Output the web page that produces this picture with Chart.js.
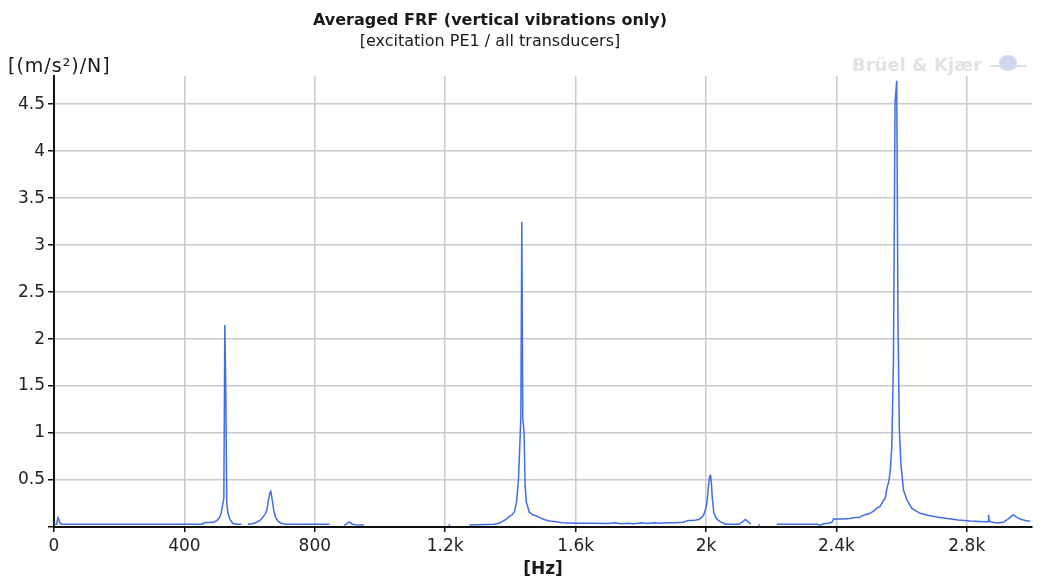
<!DOCTYPE html>
<html>
<head>
<meta charset="utf-8">
<title>Averaged FRF</title>
<script src="https://cdn.jsdelivr.net/npm/chart.js@4.4.1/dist/chart.umd.min.js"></script>
<style>
  body { margin: 0; background: #fff; }
  #wrap { width: 1043px; height: 580px; }
</style>
</head>
<body>
<div id="wrap"><canvas id="frfChart" width="1043" height="580"></canvas></div>
<script>
// Datos (null = hueco en la curva)
const freqHz = [
  0, 8, 12, 15, 18, 24, 100, 200, 300, 400, 455, 460, 490, 500, 508, 513, 518, 521, 524, 527,
  530, 534, 540, 548, 560, 575, 583,
  595, 610, 621, 632, 640, 648, 653, 658, 662, 665, 668, 671, 674, 680, 688, 697, 710, 760, 800, 845, 865,
  890, 897, 903, 908, 915, 925, 950, 1050,
  1210, 1215, 1240,
  1274, 1300, 1350, 1365, 1375, 1386, 1396, 1405, 1412, 1419, 1425, 1432, 1435, 1438, 1442, 1445,
  1449, 1458, 1468, 1478, 1490, 1503, 1520, 1540, 1559, 1600, 1650, 1700, 1720, 1740, 1760, 1780,
  1800, 1820, 1840, 1860, 1880, 1900, 1930, 1945, 1958, 1970, 1978, 1986, 1993, 1998, 2003, 2008,
  2011, 2014, 2017, 2019, 2024, 2031, 2038, 2044, 2060, 2080, 2100, 2110, 2121, 2128, 2137, 2145,
  2160, 2165, 2190,
  2217, 2260, 2300, 2340, 2351, 2360, 2375, 2386, 2391, 2420, 2440, 2458, 2470, 2480, 2488, 2500,
  2514, 2524, 2534, 2544, 2550, 2556, 2560, 2565, 2570, 2575, 2580, 2585, 2589, 2593, 2598, 2606,
  2616, 2631, 2645, 2657, 2680, 2703, 2740, 2774, 2810, 2856, 2866, 2867, 2869, 2886, 2900, 2912,
  2925, 2935, 2943, 2955, 2968, 2980, 2995
];
const amplitude = [
  0.03, 0.03, 0.1, 0.08, 0.04, 0.03, 0.028, 0.028, 0.028, 0.03, 0.03, 0.045, 0.05, 0.07, 0.1, 0.15, 0.25, 0.3, 2.15, 1.44,
  0.25, 0.14, 0.08, 0.04, 0.03, 0.03, null,
  0.03, 0.035, 0.05, 0.07, 0.1, 0.14, 0.18, 0.29, 0.36, 0.38, 0.32, 0.25, 0.18, 0.1, 0.06, 0.04, 0.03, 0.03, 0.028, 0.028, null,
  0.02, 0.03, 0.05, 0.05, 0.03, 0.025, 0.02, null,
  0.02, 0.02, null,
  0.02, 0.025, 0.03, 0.04, 0.057, 0.08, 0.11, 0.13, 0.16, 0.27, 0.52, 1.16, 3.25, 1.16, 1.0, 0.45,
  0.26, 0.16, 0.13, 0.12, 0.1, 0.08, 0.065, 0.055, 0.045, 0.04, 0.04, 0.038, 0.045, 0.035, 0.04, 0.035,
  0.045, 0.038, 0.045, 0.04, 0.045, 0.045, 0.05, 0.07, 0.07, 0.075, 0.08, 0.1, 0.13, 0.18, 0.26, 0.45,
  0.54, 0.55, 0.45, 0.32, 0.15, 0.095, 0.07, 0.057, 0.03, 0.03, 0.03, 0.05, 0.08, 0.06, 0.03, null,
  0.02, 0.02, null,
  0.03, 0.03, 0.03, 0.03, 0.02, 0.035, 0.04, 0.05, 0.085, 0.085, 0.09, 0.1, 0.1, 0.12, 0.13, 0.14,
  0.17, 0.2, 0.22, 0.28, 0.31, 0.43, 0.47, 0.59, 0.86, 1.76, 4.52, 4.75, 2.13, 1.05, 0.66, 0.39,
  0.29, 0.2, 0.17, 0.146, 0.125, 0.11, 0.09, 0.075, 0.065, 0.057, 0.057, 0.13, 0.06, 0.046, 0.045, 0.05,
  0.08, 0.11, 0.128, 0.1, 0.08, 0.07, 0.06
];
const xTickStep = 400;
const yTickStep = 0.5;

const titleText = 'Averaged FRF (vertical vibrations only)';
const subtitleText = '[excitation PE1 / all transducers]';
const yUnit = '[(m/s\u00B2)/N]';
const xUnit = '[Hz]';
const logoText = 'Br\u00FCel & Kj\u00E6r';

Chart.defaults.font.family = "'DejaVu Sans', Verdana, sans-serif";
Chart.defaults.color = '#222';

// Textos fijos: título, unidades y logotipo
const textosPlugin = {
  id: 'textos',
  afterDraw(chart) {
    const c = chart.ctx;
    c.save();
    c.fillStyle = '#1a1a1a';
    c.textAlign = 'center';
    c.textBaseline = 'alphabetic';
    c.font = "bold 16px 'DejaVu Sans'";
    c.fillText(titleText, 490, 25);
    c.font = "16px 'DejaVu Sans'";
    c.fillText(subtitleText, 490, 46);

    c.textAlign = 'left';
    c.font = "19px 'DejaVu Sans'";
    c.letterSpacing = '1px';
    c.fillText(yUnit, 8, 72);
    c.letterSpacing = '0px';

    c.textAlign = 'center';
    c.font = "bold 17px 'DejaVu Sans'";
    c.fillText(xUnit, 543, 574);

    // logo
    c.fillStyle = '#e2e2e2';
    c.textAlign = 'left';
    c.font = "bold 18px 'DejaVu Sans'";
    c.fillText(logoText, 852, 71);
    c.fillStyle = '#cdd8ee';
    c.beginPath();
    c.ellipse(1008, 63, 9, 8, 0, 0, Math.PI * 2);
    c.fill();
    c.strokeStyle = '#cdd8ee';
    c.lineWidth = 1.5;
    c.beginPath();
    c.moveTo(990, 66);
    c.lineTo(1027, 66);
    c.stroke();
    c.restore();
  }
};

new Chart(document.getElementById('frfChart'), {
  type: 'line',
  data: {
    datasets: [{
      data: freqHz.map((f, i) => ({ x: f, y: amplitude[i] })),
      borderColor: 'rgb(65, 110, 230)',
      borderWidth: 1.5,
      pointRadius: 0,
      tension: 0,
      spanGaps: false,
      fill: false
    }]
  },
  options: {
    responsive: false,
    animation: false,
    layout: { padding: { top: 76, right: 11, left: 0, bottom: 0 } },
    plugins: {
      legend: { display: false },
      tooltip: { enabled: false },
      title: { display: false }
    },
    scales: {
      x: {
        type: 'linear',
        min: 0,
        max: 3000,
        afterFit(scale) { scale.height = 53; },
        border: { color: '#111', width: 2 },
        grid: { color: '#cacaca', lineWidth: 1.5, tickColor: '#111', tickLength: 5, tickWidth: 1.5 },
        ticks: {
          stepSize: xTickStep,
          includeBounds: false,
          maxRotation: 0,
          padding: 4,
          font: { size: 17 },
          color: '#222',
          callback: v => v >= 1000 ? (v / 1000) + 'k' : String(v)
        }
      },
      y: {
        min: 0,
        max: 4.8,
        afterFit(scale) { scale.width = 54; },
        border: { color: '#111', width: 2 },
        grid: { color: '#cacaca', lineWidth: 1.5, tickColor: '#111', tickLength: 6, tickWidth: 1.5 },
        ticks: {
          stepSize: yTickStep,
          includeBounds: false,
          padding: 3,
          font: { size: 17 },
          color: '#222',
          callback: v => v === 0 ? '' : String(v)
        }
      }
    }
  },
  plugins: [textosPlugin]
});
</script>
</body>
</html>
